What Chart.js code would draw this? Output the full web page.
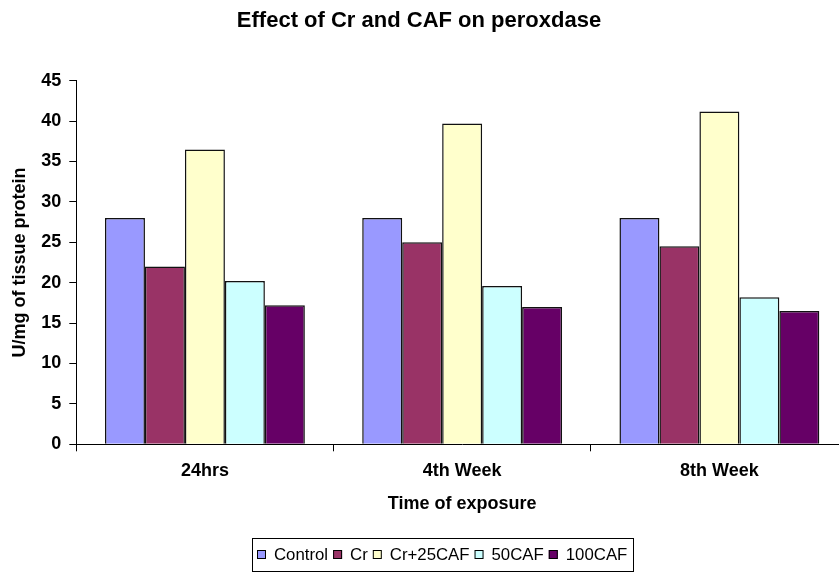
<!DOCTYPE html>
<html>
<head>
<meta charset="utf-8">
<script src="https://cdn.jsdelivr.net/npm/chart.js@4/dist/chart.umd.min.js"></script>
<style>
  html, body { margin: 0; padding: 0; background: #fff; overflow: hidden; }
  #wrap { width: 839px; height: 573px; overflow: hidden; position: relative; }
  canvas { display: block; }
</style>
</head>
<body>
<div id="wrap"><canvas id="chart" width="870" height="573" style="width:870px;height:573px"></canvas></div>
<script>
// Peroxidase activity (U/mg of tissue protein) by time of exposure
const categories = ['24hrs', '4th Week', '8th Week'];
const seriesNames = ['Control', 'Cr', 'Cr+25CAF', '50CAF', '100CAF'];
const control  = [28.0, 28.0, 28.0];
const cr       = [22.0, 25.0, 24.5];
const cr25caf  = [36.5, 39.7, 41.2];
const caf50    = [20.2, 19.6, 18.2];
const caf100   = [17.2, 17.0, 16.5];
const yTicks   = [0, 5, 10, 15, 20, 25, 30, 35, 40, 45];

const chartTitle = 'Effect of Cr and CAF on peroxdase';
const xTitle = 'Time of exposure';
const yTitle = 'U/mg of tissue protein';

const colors = ['#9999FF', '#993366', '#FFFFCC', '#CCFFFF', '#660066'];
const seriesValues = [control, cr, cr25caf, caf50, caf100];

const FONT = '"Liberation Sans", Arial, Helvetica, sans-serif';

// Title drawn over the chart, slightly left of the plot centre
const titlePlugin = {
  id: 'chartTitle',
  afterDraw(chart) {
    const ctx = chart.ctx;
    ctx.save();
    ctx.font = 'bold 22px ' + FONT;
    ctx.fillStyle = '#000';
    ctx.textAlign = 'center';
    ctx.textBaseline = 'alphabetic';
    ctx.fillText(chartTitle, 419, 27);
    ctx.restore();
  }
};

// Boxed legend row under the axis title
const boxedLegend = {
  id: 'boxedLegend',
  afterDraw(chart) {
    const ctx = chart.ctx;
    const box = { left: 252, top: 538, right: 633, bottom: 571 };
    const cy = (box.top + box.bottom) / 2;
    ctx.save();
    ctx.strokeStyle = '#000';
    ctx.lineWidth = 1;
    ctx.strokeRect(box.left + 0.5, box.top + 0.5, box.right - box.left, box.bottom - box.top);
    ctx.font = '16.8px ' + FONT;
    ctx.textBaseline = 'middle';
    ctx.textAlign = 'left';
    const sq = 9, gapAfterSq = 8, gapAfterText = 5;
    let x = 257;
    chart.data.datasets.forEach(ds => {
      ctx.fillStyle = ds.backgroundColor;
      ctx.fillRect(x, cy - sq / 2, sq, sq);
      ctx.strokeStyle = '#000';
      ctx.strokeRect(x + 0.5, cy - sq / 2 + 0.5, sq - 1, sq - 1);
      x += sq + gapAfterSq;
      ctx.fillStyle = '#000';
      ctx.fillText(ds.label, x, cy + 1);
      x += ctx.measureText(ds.label).width + gapAfterText;
    });
    ctx.restore();
  }
};

new Chart(document.getElementById('chart'), {
  type: 'bar',
  data: {
    labels: categories,
    datasets: seriesNames.map((name, i) => ({
      label: name,
      data: seriesValues[i],
      backgroundColor: colors[i],
      borderColor: '#111',
      borderWidth: 1.5,
      barPercentage: 1.0,
      categoryPercentage: 0.777
    }))
  },
  options: {
    responsive: false,
    animation: false,
    events: [],
    layout: { padding: { top: 80.7, right: 22, bottom: 58.2, left: 0 } },
    plugins: {
      legend: { display: false },
      title: { display: false },
      tooltip: { enabled: false }
    },
    scales: {
      x: {
        grid: {
          display: true,
          drawOnChartArea: false,
          drawTicks: true,
          tickLength: 7,
          offset: true,
          color: '#000',
          lineWidth: 1
        },
        border: { display: true, color: '#000', width: 1 },
        ticks: {
          color: '#000',
          padding: 9,
          maxRotation: 0,
          font: { family: FONT, size: 18, weight: 'bold' }
        },
        title: {
          display: true,
          text: xTitle,
          color: '#000',
          padding: { top: 0, bottom: 0 },
          font: { family: FONT, size: 18, weight: 'bold' }
        },
        afterFit(scale) { scale.height = 70.5; }
      },
      y: {
        min: 0,
        max: 45,
        afterBuildTicks(scale) { scale.ticks = yTicks.map(v => ({ value: v })); },
        grid: {
          display: true,
          drawOnChartArea: false,
          drawTicks: true,
          tickLength: 7,
          color: '#000',
          lineWidth: 1
        },
        border: { display: true, color: '#000', width: 1 },
        ticks: {
          color: '#000',
          padding: 8,
          font: { family: FONT, size: 18, weight: 'bold' }
        },
        title: {
          display: true,
          text: yTitle,
          color: '#000',
          padding: { top: 9, bottom: 0 },
          font: { family: FONT, size: 18, weight: 'bold' }
        },
        afterFit(scale) { scale.width = 76.3; }
      }
    }
  },
  plugins: [titlePlugin, boxedLegend]
});
</script>
</body>
</html>
